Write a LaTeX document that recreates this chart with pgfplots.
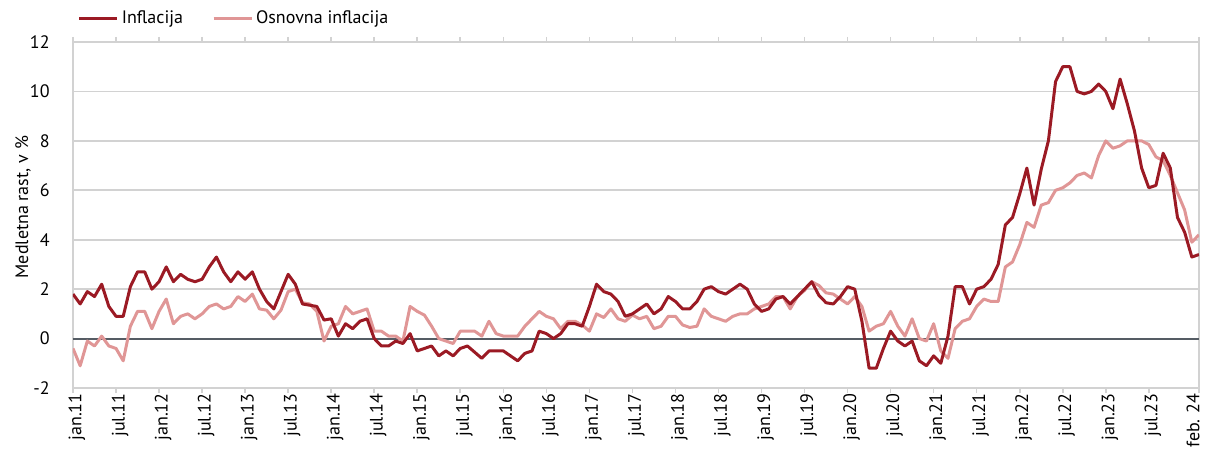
\documentclass[border=0pt]{standalone}
\usepackage{pgfplots}
\usepackage{pgfplotstable}
\pgfplotsset{compat=1.18}
\usepackage{fontspec}
\setmainfont{PT Sans}
\definecolor{infl}{RGB}{155,26,36}
\definecolor{core}{RGB}{224,150,150}
\definecolor{gridc}{RGB}{210,210,210}
\definecolor{zeroc}{RGB}{85,92,100}
\pgfplotstableread{
i infl core
0 1.8 -0.4
1 1.4 -1.1
2 1.9 -0.1
3 1.7 -0.3
4 2.2 0.1
5 1.3 -0.3
6 0.9 -0.4
7 0.9 -0.9
8 2.1 0.5
9 2.7 1.1
10 2.7 1.1
11 2.0 0.4
12 2.3 1.1
13 2.9 1.6
14 2.3 0.6
15 2.6 0.9
16 2.4 1.0
17 2.3 0.8
18 2.4 1.0
19 2.9 1.3
20 3.3 1.4
21 2.7 1.2
22 2.3 1.3
23 2.7 1.7
24 2.4 1.5
25 2.7 1.8
26 2.0 1.2
27 1.5 1.15
28 1.2 0.8
29 1.9 1.15
30 2.6 1.9
31 2.2 2.0
32 1.4 1.45
33 1.35 1.4
34 1.3 1.1
35 0.75 -0.1
36 0.8 0.5
37 0.1 0.6
38 0.6 1.3
39 0.4 1.0
40 0.7 1.1
41 0.8 1.2
42 0.0 0.3
43 -0.3 0.3
44 -0.3 0.1
45 -0.1 0.1
46 -0.2 -0.1
47 0.2 1.3
48 -0.5 1.1
49 -0.4 0.95
50 -0.3 0.5
51 -0.7 0.0
52 -0.5 -0.1
53 -0.7 -0.2
54 -0.4 0.3
55 -0.3 0.3
56 -0.55 0.3
57 -0.8 0.1
58 -0.5 0.7
59 -0.5 0.2
60 -0.5 0.1
61 -0.7 0.1
62 -0.9 0.1
63 -0.6 0.5
64 -0.5 0.8
65 0.3 1.1
66 0.2 0.9
67 0.0 0.8
68 0.2 0.4
69 0.6 0.7
70 0.6 0.7
71 0.5 0.55
72 1.3 0.3
73 2.2 1.0
74 1.9 0.85
75 1.8 1.2
76 1.5 0.8
77 0.9 0.7
78 1.0 0.95
79 1.2 0.8
80 1.4 0.9
81 1.0 0.4
82 1.2 0.5
83 1.7 0.9
84 1.5 0.9
85 1.2 0.55
86 1.2 0.45
87 1.5 0.5
88 2.0 1.2
89 2.1 0.9
90 1.9 0.8
91 1.8 0.7
92 2.0 0.9
93 2.2 1.0
94 2.0 1.0
95 1.4 1.2
96 1.1 1.3
97 1.2 1.4
98 1.6 1.7
99 1.7 1.7
100 1.4 1.2
101 1.7 1.7
102 2.0 1.95
103 2.3 2.3
104 1.75 2.15
105 1.45 1.85
106 1.4 1.8
107 1.7 1.6
108 2.1 1.4
109 2.0 1.7
110 0.7 1.3
111 -1.2 0.3
112 -1.2 0.5
113 -0.4 0.6
114 0.3 1.1
115 -0.1 0.5
116 -0.3 0.1
117 -0.1 0.8
118 -0.9 0.0
119 -1.1 -0.1
120 -0.7 0.6
121 -1.0 -0.5
122 0.1 -0.8
123 2.1 0.4
124 2.1 0.7
125 1.4 0.8
126 2.0 1.3
127 2.1 1.6
128 2.4 1.5
129 3.0 1.5
130 4.6 2.9
131 4.9 3.1
132 5.85 3.8
133 6.9 4.7
134 5.4 4.5
135 6.85 5.4
136 8.0 5.5
137 10.4 6.0
138 11.0 6.1
139 11.0 6.3
140 10.0 6.6
141 9.9 6.7
142 10.0 6.5
143 10.3 7.4
144 10.0 8.0
145 9.3 7.7
146 10.5 7.8
147 9.5 8.0
148 8.4 8.0
149 6.9 8.0
150 6.1 7.85
151 6.2 7.35
152 7.5 7.2
153 6.9 6.6
154 4.9 5.9
155 4.3 5.2
156 3.3 3.9
157 3.4 4.2
}\datatable
\begin{document}
\fontsize{9bp}{11bp}\selectfont
\begin{tikzpicture}
\begin{axis}[
  at={(0,0)}, anchor=south west,
  scale only axis,
  width=563bp, height=173bp,
  xmin=0, xmax=157,
  ymin=-2, ymax=12,
  ytick={-2,0,...,12},
  xtick={0,6,...,150},
  xticklabels={jan.11,jul.11,jan.12,jul.12,jan.13,jul.13,jan.14,jul.14,jan.15,jul.15,jan.16,jul.16,jan.17,jul.17,jan.18,jul.18,jan.19,jul.19,jan.20,jul.20,jan.21,jul.21,jan.22,jul.22,jan.23,jul.23},
  extra x ticks={157},
  extra x tick labels={feb. 24},
  extra x tick style={xticklabel style={yshift=5bp}},
  /pgf/number format/assume math mode=true,
  ymajorgrids,
  grid style={draw=gridc, line width=0.8bp},
  axis line style={draw=gridc, line width=0.8bp},
  ytick style={draw=none},
  xtick style={draw=gridc, line width=0.8bp},
  tick align=outside,
  major tick length=2.5bp,
  tick label style={font=\fontsize{9bp}{11bp}\selectfont, text=black},
  yticklabel style={inner sep=0pt, xshift=-9bp},
  xticklabel style={rotate=90, anchor=east, inner sep=0pt, yshift=-2bp},
  ylabel={Medletna rast, v \%},
  every axis y label/.style={at={(axis description cs:0,0.523)}, xshift=-25bp, rotate=90, anchor=center, font=\fontsize{9bp}{11bp}\selectfont},
  legend style={at={(axis description cs:0.004,1.069)}, anchor=west, draw=none, fill=none, inner sep=0pt,
    font=\fontsize{9bp}{11bp}\selectfont,
    /tikz/every even column/.append style={column sep=13bp},
    nodes={inner sep=1.5bp}},
  legend columns=2,
  reverse legend,
  legend image code/.code={\draw[#1] (0bp,0bp) -- (19bp,0bp);},
]
\addplot[forget plot, draw=zeroc, line width=1bp] coordinates {(0,0) (157,0)};
\addplot[core, line width=1.5bp, line join=round] table[x=i, y=core] {\datatable};
\addlegendentry{Osnovna inflacija}
\addplot[infl, line width=1.5bp, line join=round] table[x=i, y=infl] {\datatable};
\addlegendentry{Inflacija}
\end{axis}
\useasboundingbox (-36.5bp,-31.5bp) rectangle (567.5bp,194bp);
\end{tikzpicture}
\end{document}
